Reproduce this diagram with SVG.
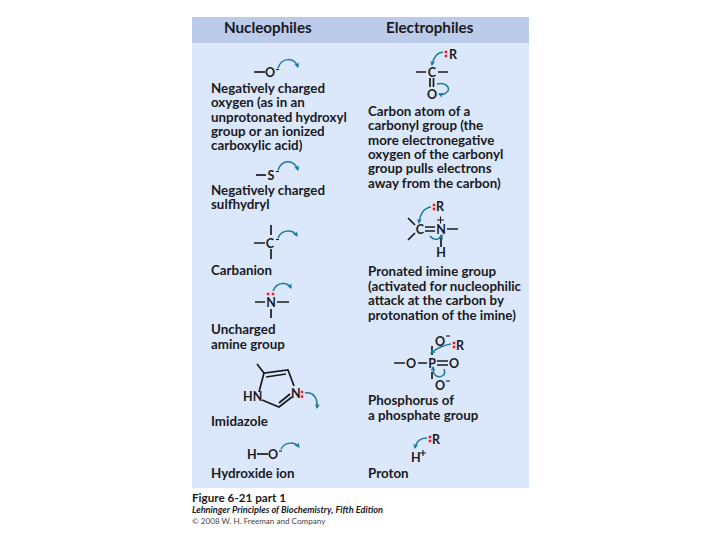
<svg xmlns="http://www.w3.org/2000/svg" width="720" height="540" viewBox="0 0 720 540">
<style>
text{font-family:Lato,"Open Sans","Liberation Sans",sans-serif;font-weight:700;fill:#1a1a1e}
.h{font-size:15.200px}
.l{font-size:13.350px}
.a{font-size:12.500px}
.m{text-anchor:middle}
.b{stroke:#1a1a1e;stroke-width:1.7;fill:none}
.n{stroke:#1a1a1e;stroke-width:1.100;fill:none}
.c{stroke:#1f7a9c;stroke-width:1.5;fill:none;marker-end:url(#ah)}
.d{fill:#c8203c}
.p{fill:#f3c9d2}
</style>
<defs>
<marker id="ah" markerWidth="6" markerHeight="6" refX="4" refY="3" orient="auto" markerUnits="userSpaceOnUse"><path d="M0,0.4L5,3L0,5.6L1.2,3Z" fill="#1f7a9c"/></marker>
</defs>
<rect width="720" height="540" fill="#fff"/>
<rect x="192" y="17" width="337" height="471" fill="#dbe8fb"/>
<rect x="192" y="17" width="337" height="26" fill="#bccbe9"/>
<text class="h" x="224" y="33">Nucleophiles</text>
<text class="h" x="386" y="33">Electrophiles</text>

<g id="n-oxygen">
<path class="b" d="M254,72H265"/>
<text class="a m" x="270" y="76.500">O</text>
<path class="n" d="M276,69.500H279"/>
<text class="l" x="211" y="93">Negatively charged</text>
<text class="l" x="211" y="107">oxygen (as in an</text>
<text class="l" x="211" y="121.500">unprotonated hydroxyl</text>
<text class="l" x="211" y="136">group or an ionized</text>
<text class="l" x="211" y="150">carboxylic acid)</text>
</g>
<g id="n-sulfhydryl">
<path class="b" d="M256,175H266"/>
<text class="a m" x="271" y="179.500">S</text>
<path class="n" d="M276,171.500H279"/>
<text class="l" x="211" y="195">Negatively charged</text>
<text class="l" x="211" y="209">sulfhydryl</text>
</g>
<g id="n-carbanion">
<path class="b" d="M254,243H265M271,225V235M271,249V259"/>
<text class="a m" x="270" y="247.500">C</text>
<path class="n" d="M276,239.500H279"/>
<text class="l" x="211" y="275">Carbanion</text>
</g>
<g id="n-amine">
<rect class="p" x="266" y="292" width="9" height="4"/>
<circle class="d" cx="268" cy="294" r="1.200"/><circle class="d" cx="273" cy="294" r="1.200"/>
<path class="b" d="M255,302H265M277,302H289M271,309V318"/>
<text class="a m" x="271" y="306.500">N</text>
<text class="l" x="211" y="334">Uncharged</text>
<text class="l" x="211" y="349">amine group</text>
</g>
<g id="n-imidazole">
<path class="b" d="M257,364L264,373L288,370L294,386M264,373L259,392M266,377L286,374M262,400L279,407L292,397M279,403L290,394"/>
<text class="a" x="243" y="401">HN</text>
<text class="a" x="291" y="398">N</text>
<rect class="p" x="300" y="390" width="4" height="9"/>
<circle class="d" cx="302" cy="392" r="1.200"/><circle class="d" cx="302" cy="396.500" r="1.200"/>
<text class="l" x="211" y="426">Imidazole</text>
</g>
<g id="n-hydroxide">
<text class="a" x="247" y="459">H</text>
<path class="b" d="M257,454H268"/>
<text class="a m" x="273" y="459">O</text>
<path class="n" d="M279,451H282"/>
<text class="l" x="211" y="478">Hydroxide ion</text>
</g>

<g id="e-carbonyl">
<rect class="p" x="444" y="50" width="4" height="8"/>
<circle class="d" cx="446" cy="52" r="1.300"/><circle class="d" cx="446" cy="56" r="1.300"/>
<text class="a" x="449" y="58.500">R</text>
<path class="b" d="M416,72H426M438,72H448M430,78V87M433.500,78V87"/>
<text class="a m" x="432" y="76.500">C</text>
<text class="a m" x="432" y="99">O</text>
<text class="l" x="368" y="116">Carbon atom of a</text>
<text class="l" x="368" y="130">carbonyl group (the</text>
<text class="l" x="368" y="144.500">more electronegative</text>
<text class="l" x="368" y="159">oxygen of the carbonyl</text>
<text class="l" x="368" y="173">group pulls electrons</text>
<text class="l" x="368" y="187.500">away from the carbon)</text>
</g>
<g id="e-imine">
<rect class="p" x="432" y="203" width="4" height="8"/>
<circle class="d" cx="434" cy="205" r="1.300"/><circle class="d" cx="434" cy="209" r="1.300"/>
<text class="a" x="436" y="211">R</text>
<path class="n" d="M437,220H444M440.500,216.500V223.500"/>
<path class="b" d="M408,218L415,225M408,240L415,233M425,227H435M425,231H435M447,229H458M441,235V247"/>
<text class="a m" x="420" y="233.500">C</text>
<text class="a m" x="441" y="233.500">N</text>
<text class="a m" x="441" y="256.500">H</text>
<text class="l" x="368" y="276">Pronated imine group</text>
<text class="l" x="368" y="290.500">(activated for nucleophilic</text>
<text class="l" x="368" y="305">attack at the carbon by</text>
<text class="l" x="368" y="319.500">protonation of the imine)</text>
</g>
<g id="e-phosphate">
<text class="a m" x="440" y="345.500">O</text>
<path class="n" d="M446,336H450"/>
<rect class="p" x="452" y="341" width="4" height="8"/>
<circle class="d" cx="454" cy="343" r="1.300"/><circle class="d" cx="454" cy="347" r="1.300"/>
<text class="a" x="456" y="350">R</text>
<path class="b" d="M394,363H405M418,363H427M432,346V355M432,372V379M437,361H448M437,365H448"/>
<text class="a m" x="411" y="367.500">O</text>
<text class="a m" x="432" y="367.500">P</text>
<text class="a m" x="454" y="367.500">O</text>
<text class="a m" x="440" y="390">O</text>
<path class="n" d="M446,381H450"/>
<text class="l" x="368" y="405">Phosphorus of</text>
<text class="l" x="368" y="419.500">a phosphate group</text>
</g>
<g id="e-proton">
<rect class="p" x="428" y="435" width="4" height="8"/>
<circle class="d" cx="430" cy="437" r="1.300"/><circle class="d" cx="430" cy="441" r="1.300"/>
<text class="a" x="432" y="443.500">R</text>
<text class="a" x="411" y="462">H</text>
<path class="n" d="M420,453H426M423,450V456"/>
<text class="l" x="368" y="478">Proton</text>
</g>

<g id="connectors">
<path class="c" d="M278,68C282,57 294,57 298,67"/>
<path class="c" d="M278,170C282,159 294,159 298,170"/>
<path class="c" d="M278,238C282,229 293,229 297,236"/>
<path class="c" d="M273,291C277,281 288,282 291,288"/>
<path class="c" d="M305,393C313,391 318,398 317,408"/>
<path class="c" d="M281,449C285,441 295,442 299,447"/>
<path class="c" d="M443,52C435,53 433,59 432,65"/>
<path class="c" d="M437,84C447,82 451,89 447,92C445,94 442,95 439,94"/>
<path class="c" d="M431,207C424,208 420,214 419,223"/>
<path class="c" d="M430,236C434,241 440,240 442,235"/>
<path class="c" d="M451,344C444,345 436,349 431,353"/>
<path class="c" d="M444,369C447,377 438,378 435,375C433,373 433,370 433,367"/>
<path class="c" d="M427,438C420,438 416,442 415,448"/>
</g>

<g id="caption">
<text x="192" y="502" font-size="11.700">Figure 6-21 part 1</text>
<text x="192" y="513" font-size="9.200" font-style="italic">Lehninger Principles of Biochemistry, Fifth Edition</text>
<text x="192" y="524" font-size="8.100" style="font-weight:400;fill:#444">© 2008 W. H. Freeman and Company</text>
</g>
</svg>
